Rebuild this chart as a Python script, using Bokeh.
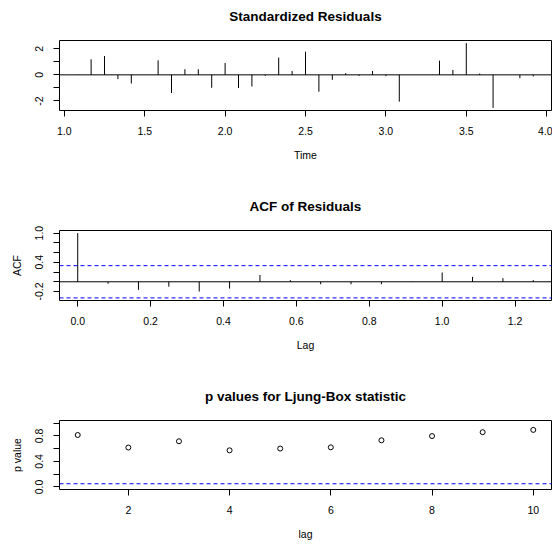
from bokeh.plotting import figure
from bokeh.layouts import column
from bokeh.models import Span, FixedTicker, Range1d, LinearAxis
from bokeh.embed import file_html
from bokeh.resources import INLINE

# ---------------- data ----------------
start_year = 1.0
freq = 12
resid_vals = [0.02, 1.19, 1.44, -0.33, -0.66, 0.0, 1.11, -1.39, 0.43, 0.43, -0.99,
              0.91, -1.01, -0.89, -0.08, 1.32, 0.30, 1.77, -1.29, -0.38, 0.13, -0.08,
              0.30, -0.10, -2.05, 0.0, 0.0, 1.09, 0.38, 2.43, 0.10, -2.53, 0.0, -0.25, -0.12]
resid_time = [start_year + (k + 1) / freq for k in range(len(resid_vals))]

acf_vals = [1.0, -0.04, -0.165, -0.10, -0.20, -0.14, 0.14, 0.035, -0.05, -0.05,
            -0.05, 0.005, 0.19, 0.10, 0.075, 0.035]
acf_lag = [k / freq for k in range(len(acf_vals))]
acf_clim = [0.331, -0.331]

lb_lag = [1, 2, 3, 4, 5, 6, 7, 8, 9, 10]
lb_pval = [0.813, 0.617, 0.715, 0.573, 0.601, 0.620, 0.730, 0.796, 0.857, 0.893]
lb_level = 0.05

# tick positions / labels
p1_xticks = [1.0, 1.5, 2.0, 2.5, 3.0, 3.5, 4.0]
p1_xlabels = ["1.0", "1.5", "2.0", "2.5", "3.0", "3.5", "4.0"]
p1_yticks = [-2, 0, 2]
p1_ylabels = ["-2", "0", "2"]
p1_yminor = [-1, 1]

p2_xticks = [0.0, 0.2, 0.4, 0.6, 0.8, 1.0, 1.2]
p2_xlabels = ["0.0", "0.2", "0.4", "0.6", "0.8", "1.0", "1.2"]
p2_yticks = [-0.2, 0.4, 1.0]
p2_ylabels = ["-0.2", "0.4", "1.0"]
p2_yminor = [0.0, 0.2, 0.6, 0.8]

p3_xticks = [2, 4, 6, 8, 10]
p3_xlabels = ["2", "4", "6", "8", "10"]
p3_yticks = [0.0, 0.4, 0.8]
p3_ylabels = ["0.0", "0.4", "0.8"]
p3_yminor = [0.2, 0.6, 1.0]

FONT = "Liberation Sans"


def padded(vals):
    lo, hi = min(vals), max(vals)
    d = (hi - lo) * 0.04
    return lo - d, hi + d


def make_fig(height, bottom, xr, yr, title, xlab, ylab,
             xt, xl, yt, yl, ym):
    p = figure(width=552, height=height, x_range=Range1d(*xr), y_range=Range1d(*yr),
               output_backend="svg", toolbar_location=None,
               min_border_left=59, min_border_right=1, min_border_top=40,
               min_border_bottom=bottom)
    p.xgrid.visible = False
    p.ygrid.visible = False
    p.outline_line_color = "black"
    p.outline_line_width = 1
    p.outline_line_alpha = 1
    p.background_fill_color = "white"
    p.border_fill_color = "white"

    bax = p.below[0]
    lax = p.left[0]
    bax.ticker = FixedTicker(ticks=xt)
    bax.major_label_overrides = {t: s for t, s in zip(xt, xl)}
    lax.ticker = FixedTicker(ticks=yt, minor_ticks=ym)
    lax.major_label_overrides = {t: s for t, s in zip(yt, yl)}
    lax.major_label_orientation = "vertical"
    for ax in (bax, lax):
        ax.axis_line_color = None
        ax.major_tick_out = 6
        ax.major_tick_in = 0
        ax.minor_tick_out = 6
        ax.minor_tick_in = 0
        ax.major_tick_line_color = "black"
        ax.minor_tick_line_color = "black"
        ax.major_label_text_font = FONT
        ax.major_label_text_font_size = "10.5px"
        ax.major_label_text_color = "black"
        ax.axis_label_text_font = FONT
        ax.axis_label_text_font_size = "10.5px"
        ax.axis_label_text_font_style = "normal"
        ax.axis_label_text_color = "black"
    bax.major_label_standoff = 10
    bax.axis_label_standoff = 11
    bax.axis_label = xlab
    lax.major_label_standoff = 10
    lax.axis_label_standoff = 10
    if ylab:
        lax.axis_label = ylab

    # main title drawn as the label of a bare axis above the frame
    tax = LinearAxis(ticker=FixedTicker(ticks=[], minor_ticks=[]), axis_label=title)
    tax.axis_line_color = None
    tax.major_tick_line_color = None
    tax.minor_tick_line_color = None
    tax.major_tick_out = 0
    tax.major_tick_in = 0
    tax.minor_tick_out = 0
    tax.minor_tick_in = 0
    tax.major_label_standoff = 0
    tax.major_label_text_font_size = "0px"
    tax.axis_label_standoff = 17
    tax.axis_label_text_font = FONT
    tax.axis_label_text_font_size = "13.5px"
    tax.axis_label_text_font_style = "bold"
    tax.axis_label_text_color = "black"
    p.add_layout(tax, "above")
    return p


# ---------- panel 1: standardized residuals ----------
p1 = make_fig(190, 80, padded(resid_time), padded(resid_vals),
              "Standardized Residuals", "Time", None,
              p1_xticks, p1_xlabels, p1_yticks, p1_ylabels, p1_yminor)
p1.segment(x0=resid_time, y0=0, x1=resid_time, y1=resid_vals,
           line_color="black", line_width=1)
p1.add_layout(Span(location=0, dimension="width", line_color="black", line_width=1))

# ---------- panel 2: ACF ----------
p2 = make_fig(190, 80, padded(acf_lag), padded(acf_vals + acf_clim),
              "ACF of Residuals", "Lag", "ACF",
              p2_xticks, p2_xlabels, p2_yticks, p2_ylabels, p2_yminor)
p2.segment(x0=acf_lag, y0=0, x1=acf_lag, y1=acf_vals,
           line_color="black", line_width=1)
p2.add_layout(Span(location=0, dimension="width", line_color="black", line_width=1))
for c in acf_clim:
    p2.add_layout(Span(location=c, dimension="width", line_color="blue",
                       line_width=1, line_dash="4 3"))

# ---------- panel 3: Ljung-Box p values ----------
p3 = make_fig(166, 57, padded(lb_lag), padded([0.0, 1.0]),
              "p values for Ljung-Box statistic", "lag", "p value",
              p3_xticks, p3_xlabels, p3_yticks, p3_ylabels, p3_yminor)
p3.scatter(x=lb_lag, y=lb_pval, marker="circle", size=5, fill_color=None,
           line_color="black", line_width=1)
p3.add_layout(Span(location=lb_level, dimension="width", line_color="blue",
                   line_width=1, line_dash="4 3"))

layout = column(p1, p2, p3, spacing=0)
open("out.html", "w").write(file_html(layout, INLINE))
